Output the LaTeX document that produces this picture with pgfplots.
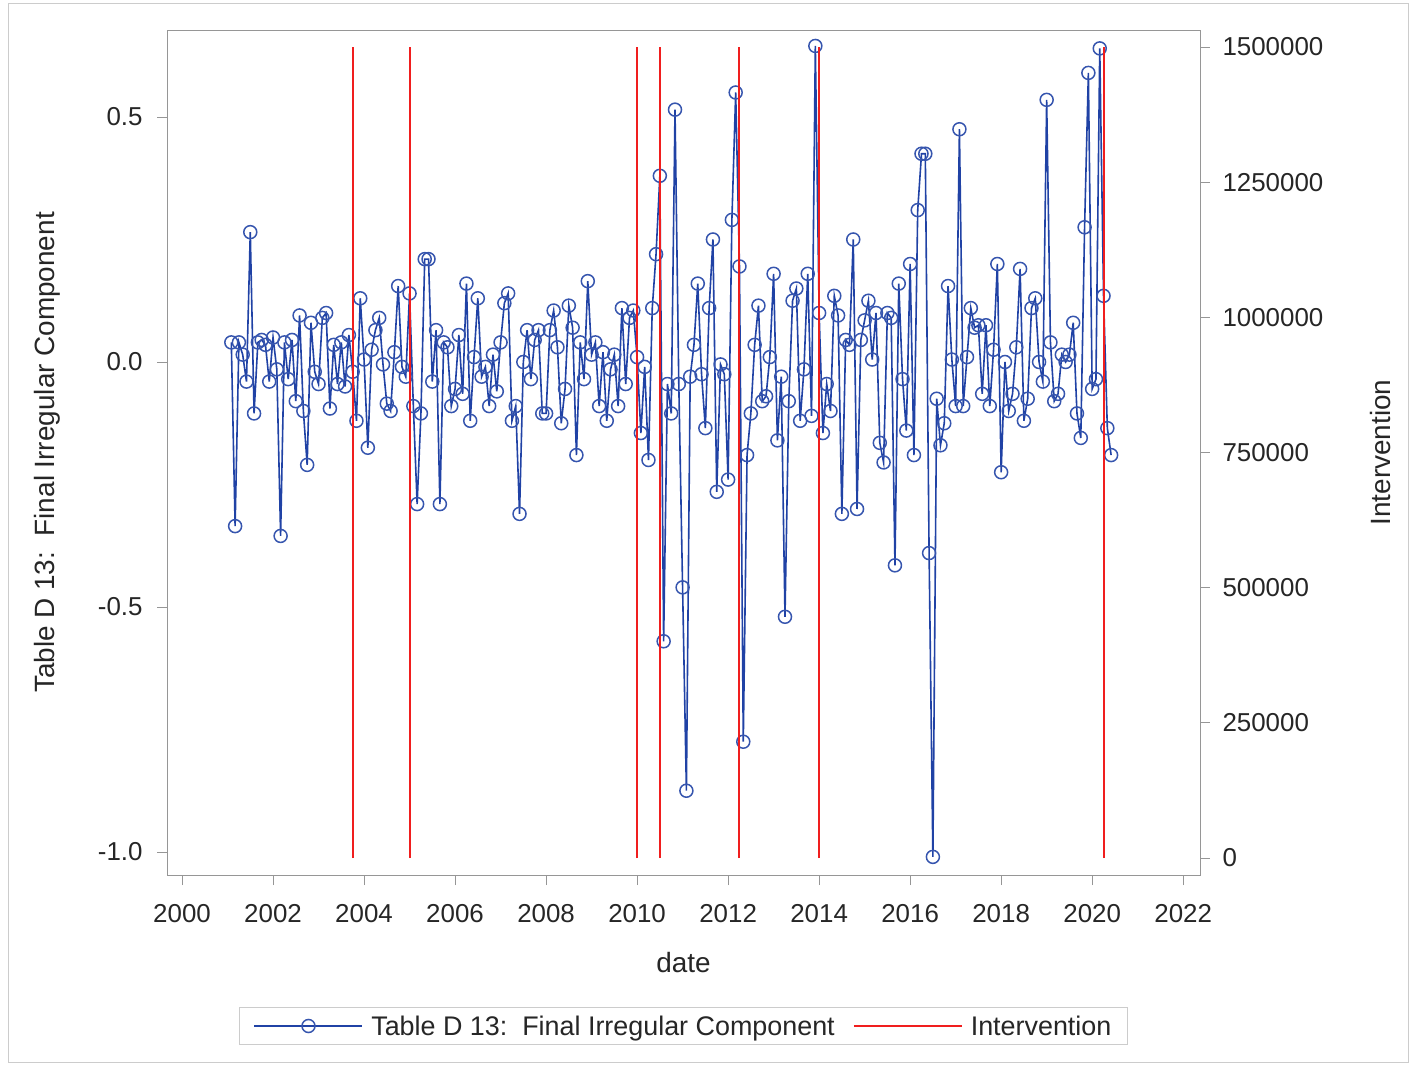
\documentclass[border=0pt]{standalone}
\usepackage{fontspec}
\setmainfont{Liberation Sans}
\usepackage{pgfplots}
\pgfplotsset{compat=1.18}
\usepackage{pgfplotstable}
\definecolor{sasblue}{RGB}{32,66,165}
\definecolor{sasred}{RGB}{240,30,30}
\definecolor{framegray}{RGB}{150,150,150}

\pgfplotstableread{
y
0.04
-0.335
0.04
0.015
-0.04
0.265
-0.105
0.04
0.045
0.035
-0.04
0.05
-0.015
-0.355
0.04
-0.035
0.045
-0.08
0.095
-0.1
-0.21
0.08
-0.02
-0.045
0.09
0.1
-0.095
0.035
-0.045
0.04
-0.05
0.055
-0.02
-0.12
0.13
0.005
-0.175
0.025
0.065
0.09
-0.005
-0.085
-0.1
0.02
0.155
-0.01
-0.03
0.14
-0.09
-0.29
-0.105
0.21
0.21
-0.04
0.065
-0.29
0.04
0.03
-0.09
-0.055
0.055
-0.065
0.16
-0.12
0.01
0.13
-0.03
-0.01
-0.09
0.015
-0.06
0.04
0.12
0.14
-0.12
-0.09
-0.31
0.0
0.065
-0.035
0.045
0.065
-0.105
-0.105
0.065
0.105
0.03
-0.125
-0.055
0.115
0.07
-0.19
0.04
-0.035
0.165
0.015
0.04
-0.09
0.02
-0.12
-0.015
0.015
-0.09
0.11
-0.045
0.09
0.105
0.01
-0.145
-0.01
-0.2
0.11
0.22
0.38
-0.57
-0.045
-0.105
0.515
-0.045
-0.46
-0.875
-0.03
0.035
0.16
-0.025
-0.135
0.11
0.25
-0.265
-0.005
-0.025
-0.24
0.29
0.55
0.195
-0.775
-0.19
-0.105
0.035
0.115
-0.08
-0.07
0.01
0.18
-0.16
-0.03
-0.52
-0.08
0.125
0.15
-0.12
-0.015
0.18
-0.11
0.645
0.1
-0.145
-0.045
-0.1
0.135
0.095
-0.31
0.045
0.035
0.25
-0.3
0.045
0.085
0.125
0.005
0.1
-0.165
-0.205
0.1
0.09
-0.415
0.16
-0.035
-0.14
0.2
-0.19
0.31
0.425
0.425
-0.39
-1.01
-0.075
-0.17
-0.125
0.155
0.005
-0.09
0.475
-0.09
0.01
0.11
0.07
0.075
-0.065
0.075
-0.09
0.025
0.2
-0.225
0.0
-0.1
-0.065
0.03
0.19
-0.12
-0.075
0.11
0.13
0.0
-0.04
0.535
0.04
-0.08
-0.065
0.015
0.0
0.015
0.08
-0.105
-0.155
0.275
0.59
-0.055
-0.035
0.64
0.135
-0.135
-0.19
}\irr

\pgfplotsset{
  common/.style={
    at={(167bp,190bp)}, anchor=south west,
    scale only axis, width=1033bp, height=845bp,
    xmin=1999.67, xmax=2022.37,
    axis line style={framegray},
    tick style={framegray, line width=0.8bp},
    major tick length=10bp,
    tick align=outside,
    /pgf/number format/assume math mode=true,
    tick label style={font=\fontsize{26}{30}\selectfont, text=black!85},
    label style={font=\fontsize{28}{32}\selectfont, text=black!85},
  },
  bluestyle/.style={sasblue, line width=1.6bp, mark=o, mark size=6.5bp,
    mark options={line width=1.5bp, sasblue!90}},
}

\begin{document}
\begin{tikzpicture}[x=1bp,y=1bp]
\path[use as bounding box] (0,0) rectangle (1411,1065);
\draw[black!20, line width=1bp] (8,3) rectangle (1408,1061);
\begin{axis}[
  common,
  ymin=-1.047, ymax=0.6776,
  xtick={2000,2002,...,2022},
  xtick pos=left, ytick pos=left,
  xticklabel style={/pgf/number format/1000 sep={}, yshift=-16bp},
  ytick={-1,-0.5,0,0.5},
  yticklabel style={/pgf/number format/fixed, /pgf/number format/fixed zerofill,
    /pgf/number format/precision=1, xshift=-11bp},
  xlabel={date},
  xlabel style={at={(axis description cs:0.5,-0.103)}, anchor=center},
  ylabel={Table D 13:\ \ Final Irregular Component},
  ylabel style={at={(axis description cs:-0.1162,0.5)}, anchor=center},
]
\addplot[bluestyle] table[x expr=2001.0833+\coordindex/12, y=y] {\irr};
\end{axis}
\begin{axis}[
  common,
  ymin=-31440, ymax=1531440,
  hide x axis,
  axis y line*=right,
  ytick={0,250000,...,1500000},
  scaled y ticks=false,
  yticklabel style={/pgf/number format/fixed, /pgf/number format/1000 sep={}, xshift=9bp},
  ylabel={Intervention},
  ylabel style={at={(axis description cs:1.1743,0.5)}, anchor=center},
  legend columns=2,
  legend style={at={(0.5,-0.1787)}, anchor=center, draw=black!20,
    font=\fontsize{27}{31}\selectfont, text=black!85,
    inner xsep=14bp, inner ysep=6bp,
    /tikz/every odd column/.append style={column sep=6bp},
    /tikz/every even column/.append style={column sep=16bp}},
  legend image code/.code={\draw[mark repeat=2, mark phase=2, #1]
    plot coordinates {(0bp,0bp) (54bp,0bp) (108bp,0bp)};},
]
\addlegendimage{bluestyle}
\addlegendentry{Table D 13:\ \ Final Irregular Component}
\addlegendimage{sasred, line width=2bp}
\addlegendentry{Intervention}
\addplot[ycomb, sasred, line width=2bp, forget plot] coordinates {
(2003.75,1500000) (2005.0,1500000) (2010.0,1500000) (2010.5,1500000)
(2012.25,1500000) (2014.0,1500000) (2020.25,1500000)};
\end{axis}
\end{tikzpicture}
\end{document}
